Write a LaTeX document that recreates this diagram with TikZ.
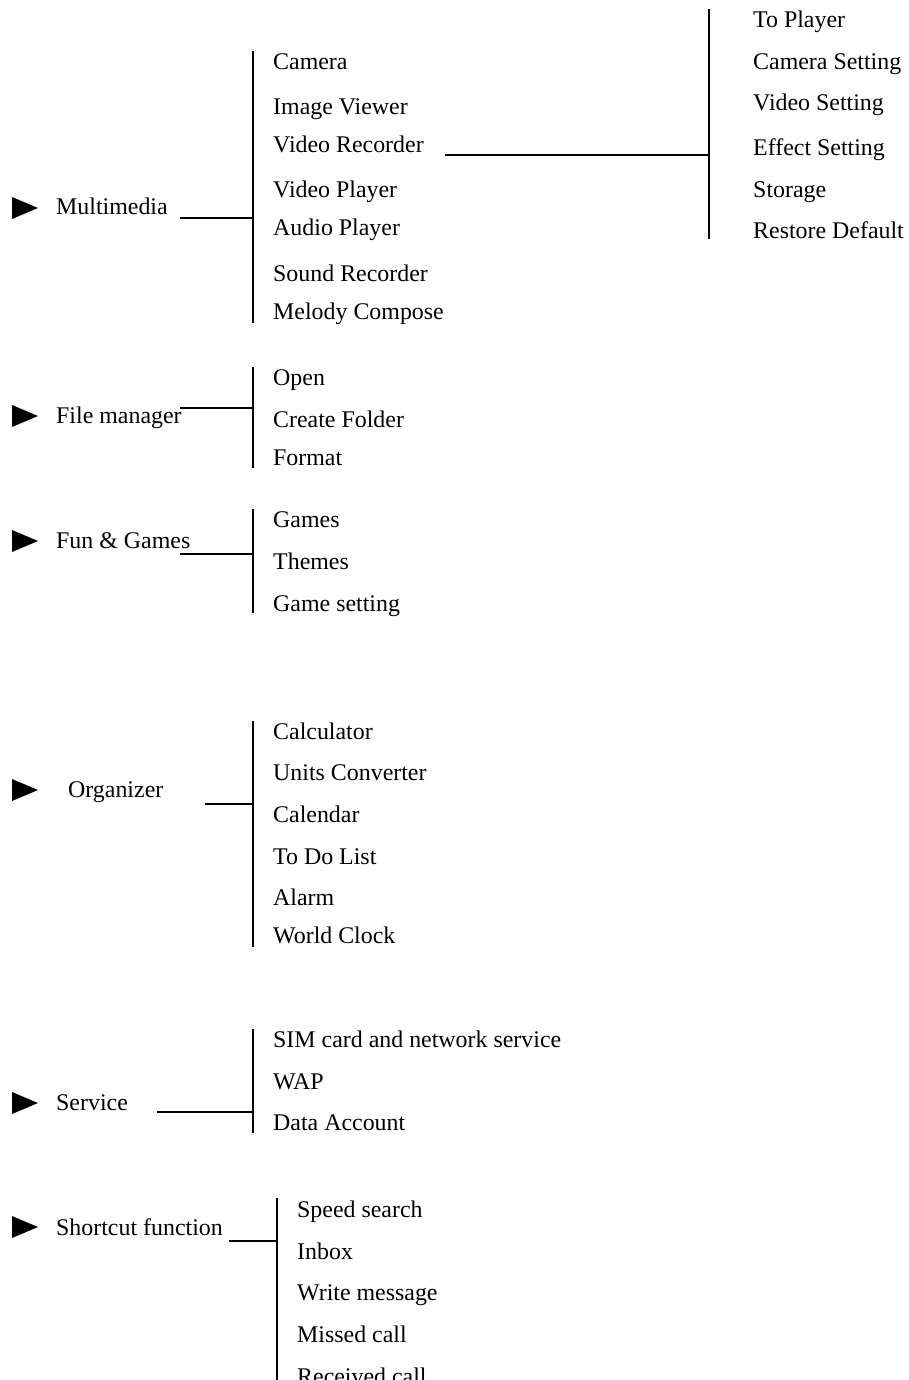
\documentclass[tikz,border=0pt]{standalone}
\usepackage{fontspec}
\setmainfont{Liberation Serif}
\begin{document}
\begin{tikzpicture}[x=1pt,y=-1pt,
  lbl/.style={anchor=base west,inner sep=0pt,font=\fontsize{23.9}{28}\selectfont},
  conn/.style={line width=1.8pt},
  tri/.style={fill=black}]
\useasboundingbox (0,0) rectangle (909,1380);
\newcommand\menutri[1]{\fill[black] (12,#1-11) -- (38,#1) -- (12,#1+11) -- cycle;}

% ---- Multimedia
\menutri{208}
\node[lbl] (mm) at (56,215) {Multimedia};
\coordinate (mmS) at (180,218);
\coordinate (mmJ) at (253,218);
\coordinate (mmT) at (253,51);
\coordinate (mmB) at (253,323);
\draw[conn] (mmS) -- (mmJ);
\draw[conn] (mmT) -- (mmB);
\node[lbl] (cam) at (273,70) {Camera};
\node[lbl] (iv) at (273,115) {Image Viewer};
\node[lbl] (vr) at (273,153) {Video Recorder};
\node[lbl] (vp) at (273,198) {Video Player};
\node[lbl] (ap) at (273,236) {Audio Player};
\node[lbl] (sr) at (273,281) {Sound Recorder};
\node[lbl] (mc) at (273,319) {Melody Compose};

% ---- Video Recorder submenu
\coordinate (vrS) at (445,155);
\coordinate (vrJ) at (709,155);
\coordinate (vrT) at (709,9);
\coordinate (vrB) at (709,239);
\draw[conn] (vrS) -- (vrJ);
\draw[conn] (vrT) -- (vrB);
\node[lbl] (tp) at (753,28) {To Player};
\node[lbl] (cs) at (753,70) {Camera Setting};
\node[lbl] (vs) at (753,111) {Video Setting};
\node[lbl] (es) at (753,156) {Effect Setting};
\node[lbl] (st) at (753,198) {Storage};
\node[lbl] (rd) at (753,239) {Restore Default};

% ---- File manager
\menutri{416}
\node[lbl] (fm) at (56,423) {File manager};
\coordinate (fmS) at (180,408);
\coordinate (fmJ) at (253,408);
\coordinate (fmT) at (253,367);
\coordinate (fmB) at (253,468);
\draw[conn] (fmS) -- (fmJ);
\draw[conn] (fmT) -- (fmB);
\node[lbl] (op) at (273,385) {Open};
\node[lbl] (cf) at (273,427) {Create Folder};
\node[lbl] (fo) at (273,465) {Format};

% ---- Fun & Games
\menutri{541}
\node[lbl] (fg) at (56,548) {Fun \& Games};
\coordinate (fgS) at (180,554);
\coordinate (fgJ) at (253,554);
\coordinate (fgT) at (253,509);
\coordinate (fgB) at (253,613);
\draw[conn] (fgS) -- (fgJ);
\draw[conn] (fgT) -- (fgB);
\node[lbl] (ga) at (273,527) {Games};
\node[lbl] (th) at (273,569) {Themes};
\node[lbl] (gs) at (273,611) {Game setting};

% ---- Organizer
\menutri{790}
\node[lbl] (org) at (68,797) {Organizer};
\coordinate (orS) at (205,804);
\coordinate (orJ) at (253,804);
\coordinate (orT) at (253,721);
\coordinate (orB) at (253,947);
\draw[conn] (orS) -- (orJ);
\draw[conn] (orT) -- (orB);
\node[lbl] (ca) at (273,739) {Calculator};
\node[lbl] (uc) at (273,780) {Units Converter};
\node[lbl] (cl) at (273,822) {Calendar};
\node[lbl] (td) at (273,864) {To Do List};
\node[lbl] (al) at (273,905) {Alarm};
\node[lbl] (wc) at (273,943) {World Clock};

% ---- Service
\menutri{1103}
\node[lbl] (sv) at (56,1110) {Service};
\coordinate (svS) at (157,1112);
\coordinate (svJ) at (253,1112);
\coordinate (svT) at (253,1029);
\coordinate (svB) at (253,1133);
\draw[conn] (svS) -- (svJ);
\draw[conn] (svT) -- (svB);
\node[lbl] (sim) at (273,1047) {SIM card and network service};
\node[lbl] (wap) at (273,1089) {WAP};
\node[lbl] (da) at (273,1130) {Data Account};

% ---- Shortcut function
\menutri{1227}
\node[lbl] (sf) at (56,1235) {Shortcut function};
\coordinate (sfS) at (229,1241);
\coordinate (sfJ) at (277,1241);
\coordinate (sfT) at (277,1198);
\coordinate (sfB) at (277,1390);
\draw[conn] (sfS) -- (sfJ);
\draw[conn] (sfT) -- (sfB);
\node[lbl] (ss) at (297,1217) {Speed search};
\node[lbl] (ib) at (297,1259) {Inbox};
\node[lbl] (wm) at (297,1300) {Write message};
\node[lbl] (mic) at (297,1342) {Missed call};
\node[lbl] (rc) at (297,1384) {Received call};
\end{tikzpicture}
\end{document}
